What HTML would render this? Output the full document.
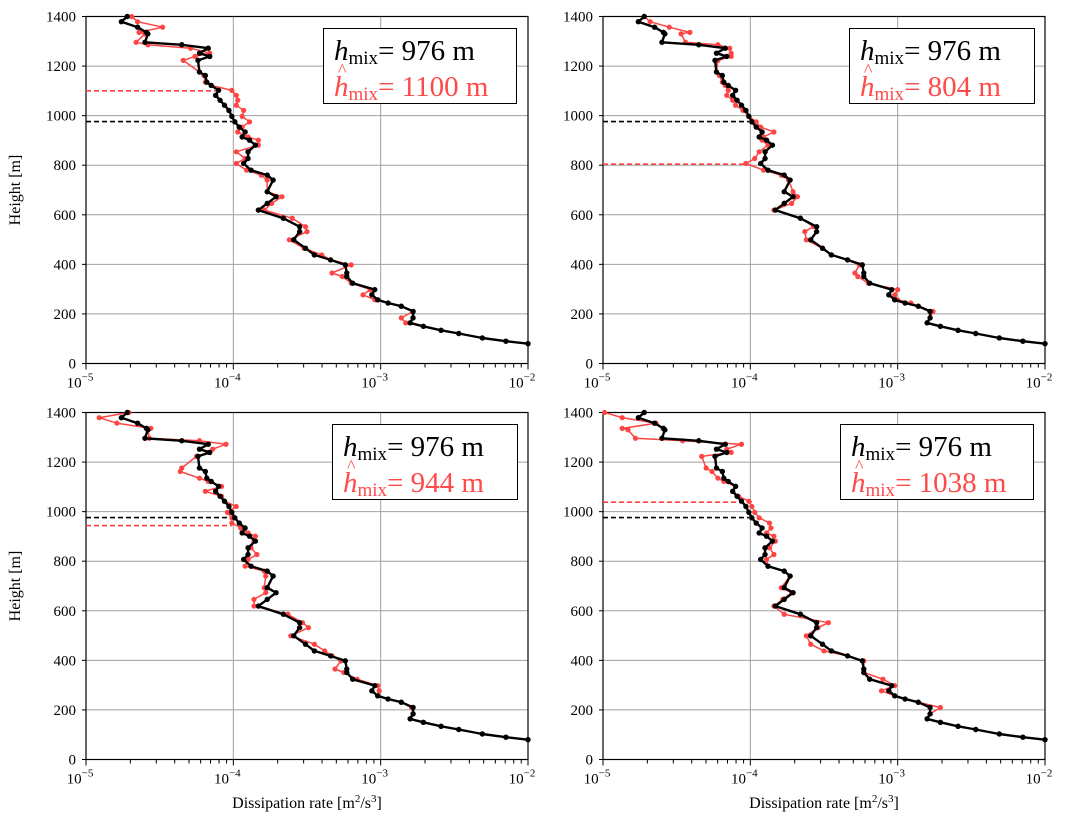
<!DOCTYPE html>
<html><head><meta charset="utf-8">
<style>
body{margin:0;background:#fff;width:1080px;height:824px;overflow:hidden}
svg{position:absolute;left:0;top:0}
text{font-family:"Liberation Serif",serif;fill:#000}
.leg{position:absolute;border:1.5px solid #000;background:#fff;font-family:"Liberation Serif",serif;font-size:29px;line-height:32px;box-sizing:border-box;width:194px;height:76px;white-space:nowrap}
.leg>div{position:absolute;left:10px}
.l1{top:6px}
.l2{top:42px}
.leg i{font-style:italic}
.leg sub{font-size:19px;vertical-align:-4px;line-height:0}
.red{color:#ff4a4a}
.hat{position:absolute;left:4px;top:-10px;font-size:18px;line-height:18px}
</style></head><body>
<svg id="chart" width="1080" height="824"></svg>
<div class="leg" style="left:323px;top:28px"><div class="l1"><i>h</i><sub>mix</sub>= 976 m</div><div class="l2 red"><span class="hat">^</span><i>h</i><sub>mix</sub>= 1100 m</div></div>
<div class="leg" style="left:849px;top:28px;width:186px"><div class="l1"><i>h</i><sub>mix</sub>= 976 m</div><div class="l2 red"><span class="hat">^</span><i>h</i><sub>mix</sub>= 804 m</div></div>
<div class="leg" style="left:332px;top:424px;width:186px"><div class="l1"><i>h</i><sub>mix</sub>= 976 m</div><div class="l2 red"><span class="hat">^</span><i>h</i><sub>mix</sub>= 944 m</div></div>
<div class="leg" style="left:840px;top:424px"><div class="l1"><i>h</i><sub>mix</sub>= 976 m</div><div class="l2 red"><span class="hat">^</span><i>h</i><sub>mix</sub>= 1038 m</div></div>
<script>
const heights=[1400,1379,1357,1336,1330,1296,1286,1272,1252,1239,1223,1176,1162,1135,1122,1102,1082,1062,1042,1021,997,975,954,934,914,901,881,854,827,807,780,760,740,693,673,646,619,586,552,532,499,465,438,418,398,365,351,324,298,277,257,244,231,210,184,164,150,134,121,103,90,80];
const blackLog=[-4.72,-4.76,-4.65,-4.59,-4.58,-4.60,-4.35,-4.17,-4.23,-4.16,-4.24,-4.23,-4.19,-4.18,-4.15,-4.10,-4.12,-4.09,-4.06,-4.03,-4.01,-3.99,-3.96,-3.92,-3.94,-3.89,-3.85,-3.90,-3.90,-3.93,-3.88,-3.77,-3.73,-3.77,-3.71,-3.77,-3.83,-3.66,-3.55,-3.55,-3.59,-3.51,-3.45,-3.34,-3.24,-3.23,-3.23,-3.19,-3.04,-3.06,-3.02,-2.95,-2.86,-2.78,-2.78,-2.80,-2.71,-2.59,-2.47,-2.31,-2.15,-2.00];
const red1Log=[-4.69,-4.65,-4.48,-4.64,-4.60,-4.66,-4.58,-4.29,-4.16,-4.26,-4.34,-4.23,-4.20,-4.19,-4.15,-4.01,-3.98,-3.97,-3.98,-3.93,-3.94,-3.89,-3.94,-3.97,-3.90,-3.83,-3.83,-3.98,-3.92,-3.98,-3.91,-3.81,-3.77,-3.77,-3.67,-3.74,-3.79,-3.60,-3.51,-3.50,-3.62,-3.52,-3.40,-3.34,-3.20,-3.33,-3.26,-3.20,-3.07,-3.12,-3.04,-2.95,-2.86,-2.78,-2.86,-2.83,-2.71,-2.59,-2.47,-2.31,-2.15,-2.00];
const red2Log=[-4.72,-4.68,-4.55,-4.41,-4.47,-4.44,-4.22,-4.14,-4.13,-4.13,-4.22,-4.23,-4.21,-4.19,-4.17,-4.15,-4.16,-4.12,-4.10,-4.05,-4.01,-3.96,-3.93,-3.84,-3.91,-3.92,-3.88,-3.94,-3.97,-4.03,-3.91,-3.79,-3.74,-3.71,-3.68,-3.72,-3.84,-3.66,-3.57,-3.63,-3.62,-3.51,-3.45,-3.34,-3.26,-3.29,-3.27,-3.20,-3.00,-3.02,-3.00,-2.91,-2.86,-2.76,-2.78,-2.80,-2.71,-2.59,-2.47,-2.31,-2.15,-2.00];
const red3Log=[-4.71,-4.91,-4.79,-4.56,-4.58,-4.57,-4.23,-4.05,-4.14,-4.17,-4.25,-4.35,-4.36,-4.23,-4.17,-4.08,-4.19,-4.08,-4.06,-3.98,-4.04,-4.01,-4.01,-3.95,-3.90,-3.85,-3.86,-3.88,-3.84,-3.90,-3.92,-3.79,-3.78,-3.79,-3.78,-3.86,-3.86,-3.63,-3.53,-3.49,-3.61,-3.45,-3.38,-3.33,-3.27,-3.31,-3.25,-3.16,-3.02,-3.01,-3.02,-2.95,-2.86,-2.79,-2.78,-2.80,-2.71,-2.59,-2.47,-2.31,-2.15,-2.00];
const red4Log=[-4.99,-4.87,-4.64,-4.87,-4.83,-4.78,-4.46,-4.06,-4.16,-4.13,-4.33,-4.30,-4.26,-4.22,-4.18,-4.10,-4.12,-4.08,-4.01,-3.99,-3.97,-3.94,-3.87,-3.86,-3.89,-3.84,-3.83,-3.87,-3.84,-3.89,-3.88,-3.77,-3.73,-3.79,-3.72,-3.78,-3.84,-3.77,-3.47,-3.54,-3.62,-3.59,-3.50,-3.34,-3.23,-3.23,-3.23,-3.10,-3.02,-3.11,-3.02,-2.95,-2.86,-2.71,-2.78,-2.80,-2.71,-2.59,-2.47,-2.31,-2.15,-2.00];
const hmixRef=976;
const hmixEst=[1100,804,944,1038];
const refDashEnd=[-4.01,-4.01,-4.01,-4.01];
const estDashEnd=[-4.11,-4.02,-4.01,-3.99];
const yTicks=[0,200,400,600,800,1000,1200,1400];
const xDecades=[-5,-4,-3,-2];

const svg=document.getElementById('chart');
const NS='http://www.w3.org/2000/svg';
function mk(tag,attrs,parent){const e=document.createElementNS(NS,tag);for(const k in attrs)e.setAttribute(k,attrs[k]);(parent||svg).appendChild(e);return e;}
const panels=[{x0:86,y0:16.5,red:red1Log},{x0:603,y0:16.5,red:red2Log},{x0:86,y0:412.5,red:red3Log},{x0:603,y0:412.5,red:red4Log}];
const W=442,H=347;
panels.forEach((p,pi)=>{
  const g=mk('g',{});
  
  
  const xs=v=>p.x0+(v+5)/3*W;
  const ys=h=>p.y0+H-h/1400*H;
  yTicks.forEach(t=>{
    if(t>0&&t<1400){const l=mk('line',{x1:p.x0,x2:p.x0+W,y1:ys(t),y2:ys(t),stroke:'#a0a0a0','stroke-width':1},g);}
    mk('line',{x1:p.x0-4,x2:p.x0,y1:ys(t),y2:ys(t),stroke:'#000'},g);
    const tx=mk('text',{x:p.x0-10,y:ys(t)+5,'text-anchor':'end','font-size':15},g);tx.textContent=t;
    
  });
  xDecades.forEach(d=>{
    if(d>-5&&d<-2){const l=mk('line',{x1:xs(d),x2:xs(d),y1:p.y0,y2:p.y0+H,stroke:'#a0a0a0'},g);}
    mk('line',{x1:xs(d),x2:xs(d),y1:p.y0+H,y2:p.y0+H+6,stroke:'#000'},g);
    if(d<-2){for(let m=2;m<10;m++){const xx=xs(d+Math.log10(m));mk('line',{x1:xx,x2:xx,y1:p.y0+H,y2:p.y0+H+4,stroke:'#000'},g);}}
    const tx=mk('text',{x:xs(d)-6,y:p.y0+H+24,'text-anchor':'middle','font-size':15},g);
    
    tx.textContent='10';const ts=mk('tspan',{dy:-7,'font-size':11},tx);ts.textContent=String(d).replace('-','−');
  });
  mk('rect',{x:p.x0,y:p.y0,width:W,height:H,fill:'none',stroke:'#000','stroke-width':1.2},g);
  const d1=mk('line',{x1:p.x0,x2:xs(refDashEnd[pi]),y1:ys(hmixRef),y2:ys(hmixRef),stroke:'#000','stroke-width':1.6,'stroke-dasharray':'5,3'},g);
  
  const d2=mk('line',{x1:p.x0,x2:xs(estDashEnd[pi]),y1:ys(hmixEst[pi]),y2:ys(hmixEst[pi]),stroke:'#ff4040','stroke-width':1.6,'stroke-dasharray':'5,3'},g);
  
  function series(vals,color,lw,r,name){
    const pts=heights.map((h,i)=>xs(vals[i]).toFixed(1)+','+ys(h).toFixed(1)).join(' ');
    const pl=mk('polyline',{points:pts,fill:'none',stroke:color,'stroke-width':lw,'stroke-linejoin':'round'},g);
    
    heights.forEach((h,i)=>{const c=mk('circle',{cx:xs(vals[i]),cy:ys(h),r:r,fill:color},g);});
  }
  series(p.red,'#ff4444',1.5,2.6,'estimated-profile');
  series(blackLog,'#000',2.4,2.7,'reference-profile');
});
[[20,190],[20,586]].forEach(([x,y])=>{const t=mk('text',{x:x,y:y,'text-anchor':'middle','font-size':16,transform:`rotate(-90 ${x} ${y})`});t.textContent='Height [m]';});
[307,824].forEach(x=>{const t=mk('text',{x:x,y:808,'text-anchor':'middle','font-size':16});
t.appendChild(document.createTextNode('Dissipation rate [m'));const a=mk('tspan',{dy:-6,'font-size':11},t);a.textContent='2';const b=mk('tspan',{dy:6},t);b.textContent='/s';const c=mk('tspan',{dy:-6,'font-size':11},t);c.textContent='3';const d=mk('tspan',{dy:6},t);d.textContent=']';});
</script>
</body></html>
